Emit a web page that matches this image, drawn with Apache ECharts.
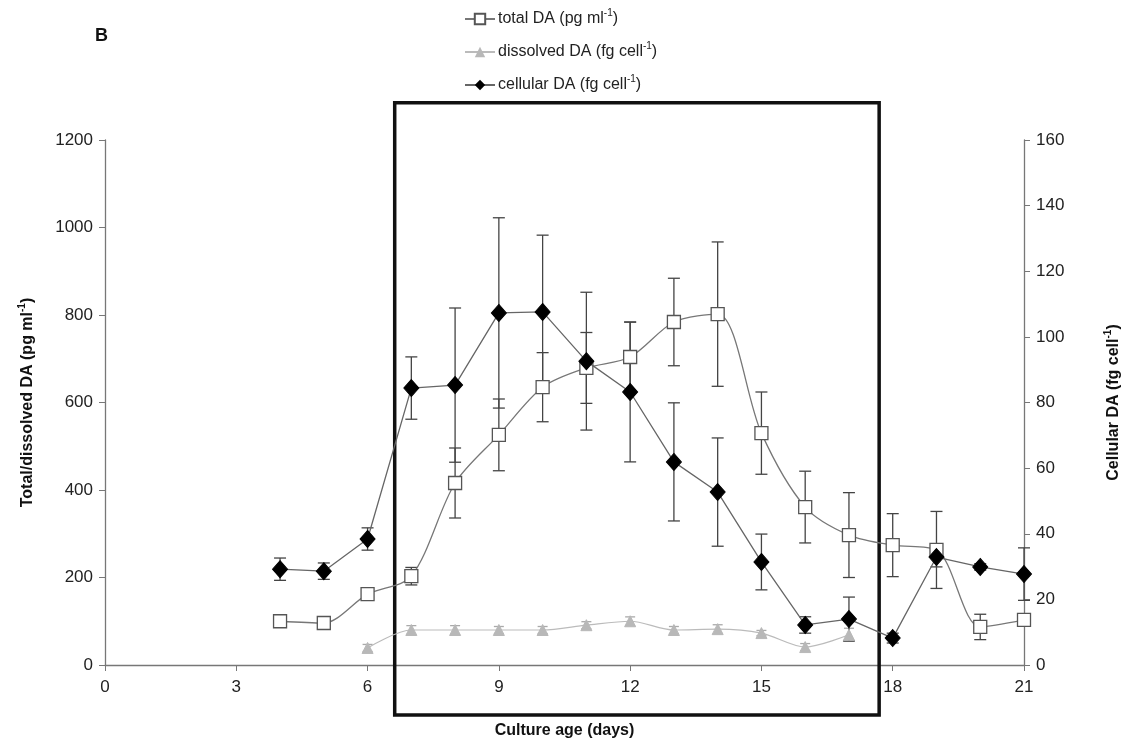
<!DOCTYPE html>
<html>
<head>
<meta charset="utf-8">
<script src="https://cdn.jsdelivr.net/npm/echarts@6/dist/echarts.min.js"></script>
<style>
html,body{margin:0;padding:0;background:#fff;}
#chart{width:1130px;height:756px;}
</style>
</head>
<body>
<div id="chart"></div>
<script>
// ---- data ----
var xTicks = [0, 3, 6, 9, 12, 15, 18, 21];
var totalDays = [4, 5, 6, 7, 8, 9, 10, 11, 12, 13, 14, 15, 16, 17, 18, 19, 20, 21];
var totalDA = [100, 96, 162, 203, 416, 526, 635, 679, 704, 784, 802, 530, 361, 297, 274, 263, 87, 103];
var totalErr = [8, 8, 10, 20, 80, 82, 79, 81, 80, 100, 165, 94, 82, 97, 72, 88, 29, 10];
var cellDays = [4, 5, 6, 7, 8, 9, 10, 11, 12, 13, 14, 15, 16, 17, 18, 19, 20, 21];
var cellularDA = [29.2, 28.6, 38.4, 84.4, 85.3, 107.3, 107.6, 92.6, 83.2, 61.9, 52.7, 31.4, 12.2, 14.0, 8.2, 32.9, 29.9, 27.7];
var cellErr = [3.4, 2.5, 3.4, 9.5, 23.5, 29, 23.4, 21, 21.3, 18, 16.5, 8.5, 2.5, 6.7, 1.5, 3, 1, 8];
var dissDays = [6, 7, 8, 9, 10, 11, 12, 13, 14, 15, 16, 17];
var dissolvedDA = [39, 80, 80, 80, 80, 91, 100, 80, 82, 73, 41, 69];
var dissErr = [8, 10, 10, 8, 8, 8, 10, 8, 10, 6, 8, 15];
// highlighted window (day range, y range in left-axis units)
var boxDays = [6.62, 17.69];
var boxLeftY = [-114, 1285];

function pairs(xs, ys) { return xs.map(function (x, i) { return [x, ys[i]]; }); }
function errData(xs, ys, es) { return xs.map(function (x, i) { return [x, ys[i] - es[i], ys[i] + es[i]]; }); }

function errRender(color, capW) {
  return function (params, api) {
    var lo = api.coord([api.value(0), api.value(1)]);
    var hi = api.coord([api.value(0), api.value(2)]);
    var st = { stroke: color, lineWidth: 1.3 };
    return {
      type: 'group',
      children: [
        { type: 'line', shape: { x1: lo[0], y1: lo[1], x2: hi[0], y2: hi[1] }, style: st },
        { type: 'line', shape: { x1: lo[0] - capW, y1: lo[1], x2: lo[0] + capW, y2: lo[1] }, style: st },
        { type: 'line', shape: { x1: hi[0] - capW, y1: hi[1], x2: hi[0] + capW, y2: hi[1] }, style: st }
      ]
    };
  };
}

var FONT = 'Liberation Sans, Arial, sans-serif';
var rich = {
  n: { fontSize: 16, fontFamily: FONT, color: '#222', lineHeight: 22 },
  s: { fontSize: 10, fontFamily: FONT, color: '#222', verticalAlign: 'top', lineHeight: 22 },
  b: { fontSize: 16, fontWeight: 'bold', fontFamily: FONT, color: '#111', lineHeight: 22 },
  bs: { fontSize: 10, fontWeight: 'bold', fontFamily: FONT, color: '#111', verticalAlign: 'top', lineHeight: 22 }
};
var legendNames = {
  'total': '{n|total DA (pg ml}{s|-1}{n|)}',
  'dissolved': '{n|dissolved DA (fg cell}{s|-1}{n|)}',
  'cellular': '{n|cellular DA (fg cell}{s|-1}{n|)}'
};

var chart = echarts.init(document.getElementById('chart'), null, { renderer: 'canvas' });
var axisLabelStyle = { color: '#222', fontSize: 17, fontFamily: FONT };
var option = {
  backgroundColor: '#fff',
  animation: false,
  title: {
    text: 'B', left: 90, top: 22,
    textStyle: { fontSize: 18, fontWeight: 'bold', color: '#111', fontFamily: FONT }
  },
  legend: {
    orient: 'vertical', left: 459, top: 3, itemGap: 14,
    itemWidth: 30, itemHeight: 13,
    data: ['total', 'dissolved', 'cellular'],
    formatter: function (name) { return legendNames[name]; },
    textStyle: { rich: rich, color: '#222', fontSize: 16, padding: [0, 0, 0, -2] }
  },
  grid: { left: 105, right: 105, top: 140, bottom: 91 },
  xAxis: {
    type: 'value', min: 0, max: 21, interval: 3,
    name: 'Culture age (days)', nameLocation: 'middle', nameGap: 58,
    nameTextStyle: { fontSize: 16, fontWeight: 'bold', color: '#111', fontFamily: FONT },
    axisLine: { lineStyle: { color: '#777', width: 1.3 } },
    axisTick: { show: true, length: 6, lineStyle: { color: '#777' } },
    axisLabel: Object.assign({ margin: 14 }, axisLabelStyle),
    splitLine: { show: false }
  },
  yAxis: [{
    type: 'value', min: 0, max: 1200, interval: 200, position: 'left',
    name: '{b|Total/dissolved DA (pg ml}{bs|-1}{b|)}', nameLocation: 'middle', nameRotate: 90, nameGap: 66,
    nameTextStyle: { rich: rich },
    axisLine: { show: true, lineStyle: { color: '#777', width: 1.3 } },
    axisTick: { show: true, length: 6, lineStyle: { color: '#777' } },
    axisLabel: Object.assign({ margin: 12, formatter: function (v) { return String(v); } }, axisLabelStyle),
    splitLine: { show: false }
  }, {
    type: 'value', min: 0, max: 160, interval: 20, position: 'right',
    name: '{b|Cellular DA (fg cell}{bs|-1}{b|)}', nameLocation: 'middle', nameRotate: 90, nameGap: 79,
    nameTextStyle: { rich: rich },
    axisLine: { show: true, lineStyle: { color: '#777', width: 1.3 } },
    axisTick: { show: true, length: 6, lineStyle: { color: '#777' } },
    axisLabel: Object.assign({ margin: 12 }, axisLabelStyle),
    splitLine: { show: false }
  }],
  series: [
    {
      type: 'custom', name: 'box', yAxisIndex: 0, clip: false, silent: true, z: 1,
      data: [[boxDays[0], boxLeftY[0], boxDays[1], boxLeftY[1]]],
      encode: { x: [0, 2], y: [1, 3] },
      renderItem: function (params, api) {
        var a = api.coord([api.value(0), api.value(3)]);
        var b = api.coord([api.value(2), api.value(1)]);
        return { type: 'rect', shape: { x: a[0], y: a[1], width: b[0] - a[0], height: b[1] - a[1] },
          style: { fill: 'none', stroke: '#111', lineWidth: 3.5 } };
      }
    },
    {
      type: 'custom', name: 'dissErr', yAxisIndex: 0, z: 2, silent: true,
      data: errData(dissDays, dissolvedDA, dissErr), encode: { x: 0, y: [1, 2] },
      renderItem: errRender('#aaa', 5)
    },
    {
      type: 'custom', name: 'totalErr', yAxisIndex: 0, z: 2, silent: true,
      data: errData(totalDays, totalDA, totalErr), encode: { x: 0, y: [1, 2] },
      renderItem: errRender('#444', 6)
    },
    {
      type: 'custom', name: 'cellErr', yAxisIndex: 1, z: 2, silent: true,
      data: errData(cellDays, cellularDA, cellErr), encode: { x: 0, y: [1, 2] },
      renderItem: errRender('#444', 6)
    },
    {
      type: 'line', name: 'dissolved', yAxisIndex: 0, z: 3,
      data: pairs(dissDays, dissolvedDA), smooth: 0.3,
      symbol: 'triangle', symbolSize: 11,
      lineStyle: { color: '#bbb', width: 1.2 },
      itemStyle: { color: '#b8b8b8', borderColor: '#b8b8b8' }
    },
    {
      type: 'line', name: 'total', yAxisIndex: 0, z: 4,
      data: pairs(totalDays, totalDA), smooth: 0.3,
      symbol: 'rect', symbolSize: 13,
      lineStyle: { color: '#777', width: 1.3 },
      itemStyle: { color: '#fff', borderColor: '#555', borderWidth: 1.3 }
    },
    {
      type: 'line', name: 'cellular', yAxisIndex: 1, z: 5,
      data: pairs(cellDays, cellularDA),
      symbol: 'diamond', symbolSize: [15, 17],
      lineStyle: { color: '#666', width: 1.3 },
      itemStyle: { color: '#000', borderColor: '#000' }
    }
  ]
};
chart.setOption(option);
</script>
</body>
</html>
